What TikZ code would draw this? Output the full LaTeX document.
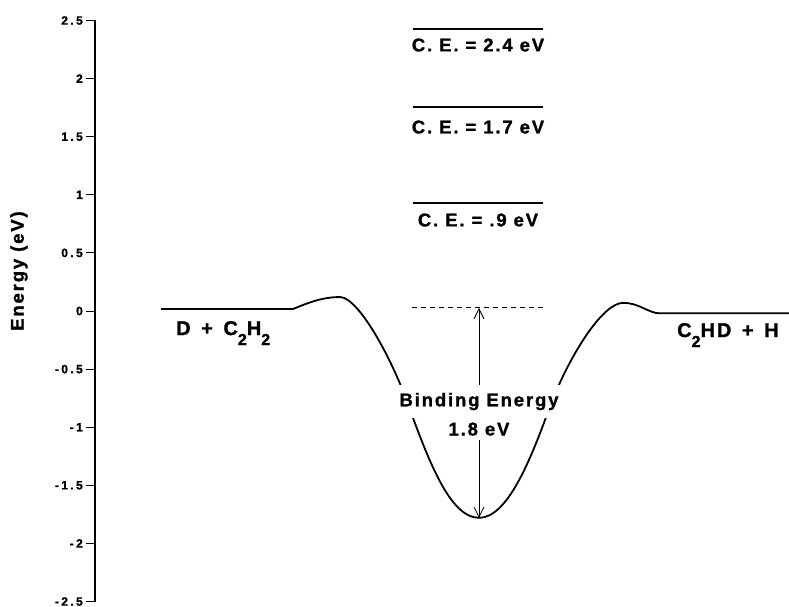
\documentclass[tikz,border=0pt]{standalone}
\usepackage{fontspec}
\setmainfont{Liberation Sans}[LetterSpace=10, BoldFeatures={FakeBold=1.2}]
\newfontfamily\rxnfont{Liberation Sans}[LetterSpace=10, WordSpace=1.4, BoldFeatures={FakeBold=1.2}]
\newfontfamily\tickfont{Liberation Sans}[LetterSpace=20, BoldFeatures={FakeBold=1.5}]
\usepackage{tikz}
\usetikzlibrary{arrows.meta, positioning, calc}
\newcommand{\lowsub}[1]{\raisebox{-10pt}{\fontsize{16}{16}\selectfont #1}}

\begin{document}
\begin{tikzpicture}[
  x=1pt, y=116.2pt,
  lbl/.style={font=\fontsize{18.5}{21}\selectfont\bfseries, inner sep=1pt},
  rxn/.style={font=\fontsize{20}{22}\selectfont\rxnfont\bfseries, inner sep=0pt, anchor=base west},
  ticklbl/.style={font=\fontsize{12}{13}\selectfont\tickfont\bfseries, anchor=east, inner sep=0pt},
  level/.style={line width=1.2pt},
  pes/.style={line width=1.8pt, line join=round},
  arr/.style={-{Straight Barb[length=10pt, width=10pt]}, line width=0.8pt}
]
  \useasboundingbox (0,2.6764) rectangle (789,-2.5473);

  % energy axis
  \draw[line width=1.2pt] (95,2.5) -- (95,-2.5);
  \foreach \v [count=\i] in {2.5,2,1.5,1,0.5,0,-0.5,-1,-1.5,-2,-2.5} {
    \draw[line width=1pt] (86,\v) -- (95,\v);
    \node[ticklbl] (tk\i) at (83,\v) {\v};
  }
  \node[lbl, rotate=90] (ylab) at (19,0.344) {Energy (eV)};

  % collision energies
  \draw[level] (413,2.427) -- (543,2.427);
  \node[lbl] (ce1) at (478,2.289) {C. E. = 2.4 eV};
  \draw[level] (413,1.756) -- (543,1.756);
  \node[lbl] (ce2) at (478,1.583) {C. E. = 1.7 eV};
  \draw[level] (413,0.929) -- (543,0.929);
  \node[lbl] (ce3) at (478,0.783) {C. E. = .9 eV};

  % potential energy surface
  \draw[pes] (161,0.017) -- (293,0.017)
    .. controls (308,0.07) and (322,0.12) .. (340,0.12)
    .. controls (358,0.12) and (392,-0.40) .. (410,-0.85)
    .. controls (430,-1.32) and (451,-1.78) .. (479,-1.78)
    .. controls (507,-1.78) and (530,-1.30) .. (550,-0.82)
    .. controls (570,-0.37) and (603,0.07) .. (623,0.07)
    .. controls (640,0.07) and (648,-0.02) .. (660,-0.02)
    -- (789,-0.02);
  \node[rxn] (reac) at (176,-0.207) {D + C\lowsub{2}H\lowsub{2}};
  \node[rxn] (prod) at (677,-0.224) {C\lowsub{2}HD + H};

  % binding energy
  \coordinate (dl) at (412,0.026);
  \coordinate (dr) at (543,0.026);
  \coordinate (top) at (479,0.026);
  \coordinate (bot) at (479,-1.78);
  \draw[line width=1pt, dash pattern=on 5pt off 4pt] (dl) -- (dr);
  \node[lbl, fill=white, inner xsep=2pt, inner ysep=8pt] (bind) at (479,-0.779) {Binding Energy};
  \node[lbl, inner sep=4pt, below=0pt of bind] (bindval) {1.8 eV};
  \draw[arr] (bind.north) -- (top);
  \draw[arr] (bindval.south) -- (bot);
\end{tikzpicture}
\end{document}
